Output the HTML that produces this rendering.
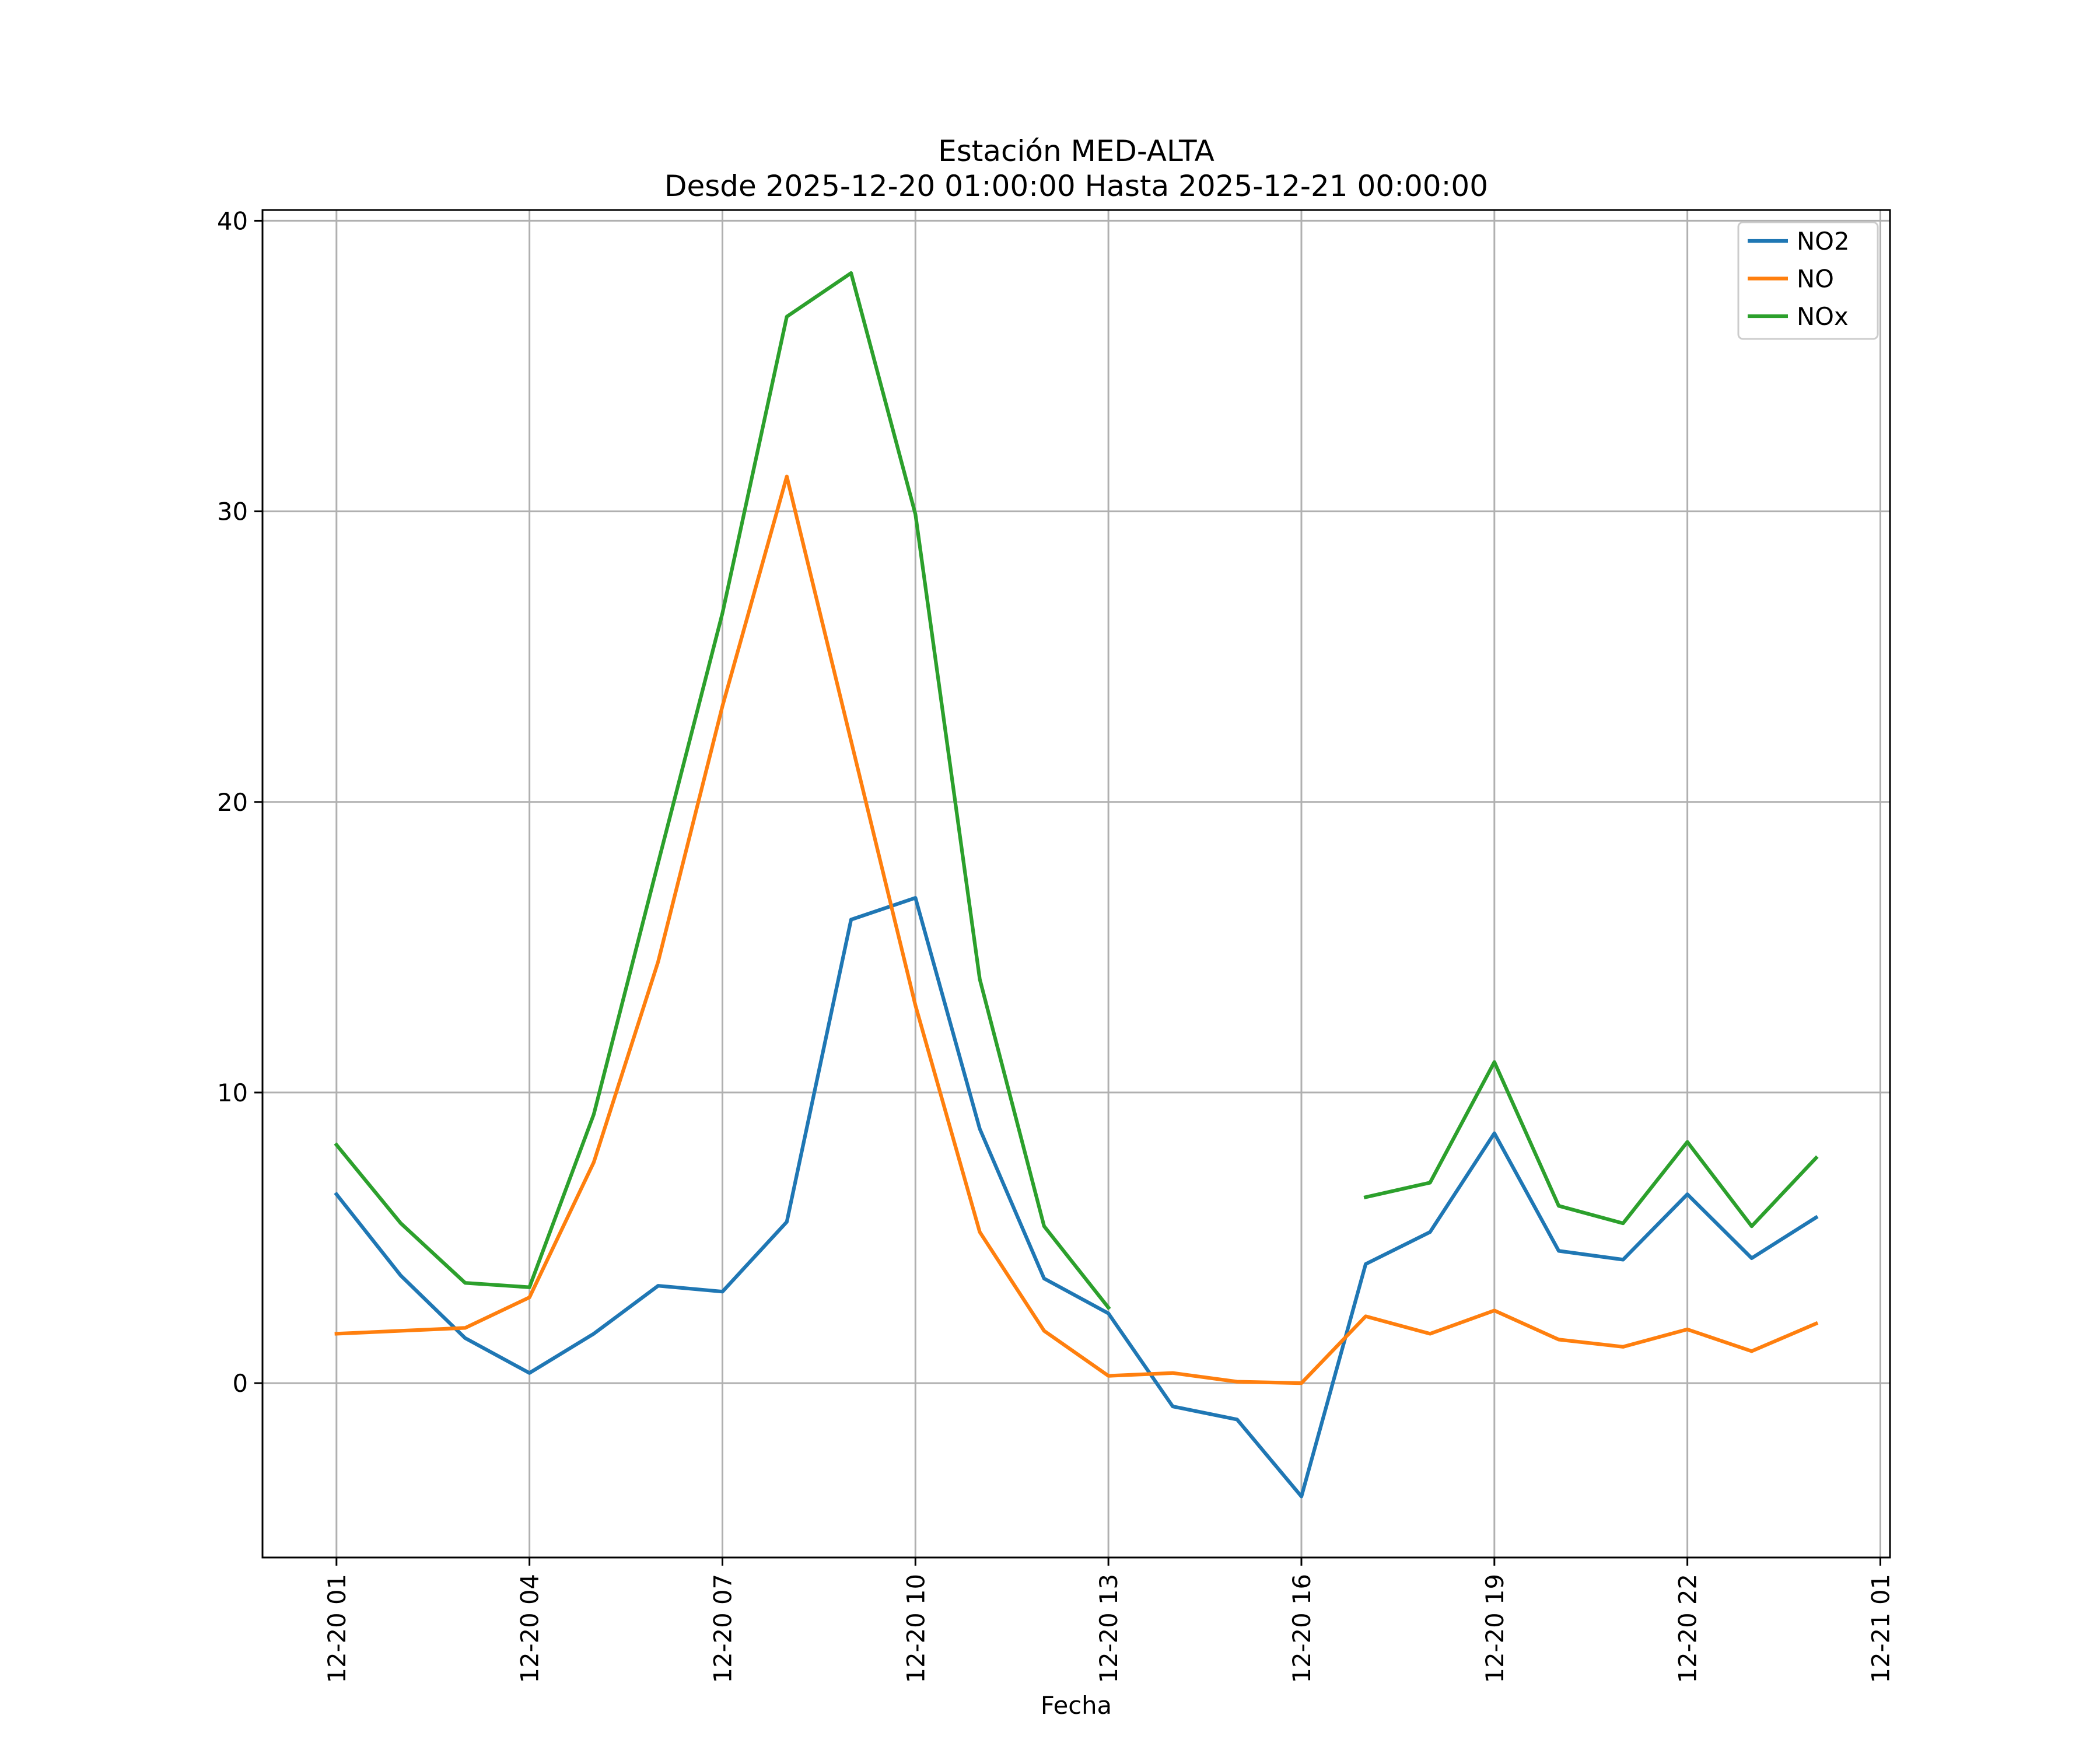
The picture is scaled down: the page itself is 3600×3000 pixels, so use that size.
<!DOCTYPE html>
<html><head><meta charset="utf-8"><style>
body{margin:0;background:#fff}
svg{display:block;font-family:"DejaVu Sans","Liberation Sans",sans-serif}
</style></head><body>
<svg id="chart" width="3600" height="3000" viewBox="0 0 3600 3000" xmlns="http://www.w3.org/2000/svg">
<rect width="3600" height="3000" fill="#fff"/>
<text x="1845" y="276" font-size="50" text-anchor="middle">Estación MED-ALTA</text>
<text x="1845" y="336" font-size="50" text-anchor="middle">Desde 2025-12-20 01:00:00 Hasta 2025-12-21 00:00:00</text>
<g id="grid"></g>
<g id="series"></g>
<rect x="450" y="360" width="2790" height="2310" fill="none" stroke="#000" stroke-width="3"/>
<g id="ticks"></g>
<text x="1845" y="2938" font-size="41.7" text-anchor="middle">Fecha</text>
<g id="legend"></g>
</svg>
<script>
const hours = [0,1,2,3,4,5,6,7,8,9,10,11,12,13,14,15,16,17,18,19,20,21,22,23];
const no2 = [6.5,3.7,1.55,0.35,1.7,3.35,3.15,5.55,15.95,16.7,8.75,3.6,2.4,-0.8,-1.25,-3.9,4.1,5.2,8.6,4.55,4.25,6.5,4.3,5.7];
const no = [1.7,1.8,1.9,2.95,7.6,14.5,23.3,31.2,22.1,13.0,5.2,1.8,0.25,0.35,0.05,0.0,2.3,1.7,2.5,1.5,1.25,1.85,1.1,2.05];
const nox = [8.2,5.5,3.45,3.3,9.25,17.9,26.5,36.7,38.2,29.9,13.9,5.4,2.6,null,null,null,6.4,6.9,11.05,6.1,5.5,8.3,5.4,7.75];
const yTicks = [0,10,20,30,40];
const xTickHours = [0,3,6,9,12,15,18,21,24];
const xTickLabels = ["12-20 01","12-20 04","12-20 07","12-20 10","12-20 13","12-20 16","12-20 19","12-20 22","12-21 01"];

const L=450,R=3240,T=360,B=2670;
const xMin=-1.15,xMax=24.15,yMin=-6.0,yMax=40.37;
const xs=h=>L+(h-xMin)/(xMax-xMin)*(R-L);
const ys=v=>B-(v-yMin)/(yMax-yMin)*(B-T);
const NS="http://www.w3.org/2000/svg";
function mk(tag,attrs,parent){const e=document.createElementNS(NS,tag);for(const k in attrs)e.setAttribute(k,attrs[k]);parent.appendChild(e);return e;}
const grid=document.getElementById('grid'),ticks=document.getElementById('ticks'),series=document.getElementById('series'),legend=document.getElementById('legend');

yTicks.forEach(v=>{
  const y=ys(v);
  const g=mk('line',{x1:L,x2:R,y1:y,y2:y,stroke:'#b0b0b0','stroke-width':3},grid);
  
  
  mk('line',{x1:L-14,x2:L,y1:y,y2:y,stroke:'#000','stroke-width':3},ticks);
  const t=mk('text',{x:L-25,y:y+15,'font-size':41.7,'text-anchor':'end'},ticks);
  t.textContent=v;
  
  
});
xTickHours.forEach((h,i)=>{
  const x=xs(h);
  const g=mk('line',{x1:x,x2:x,y1:T,y2:B,stroke:'#b0b0b0','stroke-width':3},grid);
  
  
  mk('line',{x1:x,x2:x,y1:B,y2:B+14,stroke:'#000','stroke-width':3},ticks);
  const t=mk('text',{x:0,y:0,'font-size':41.7,'text-anchor':'end',transform:`translate(${x+15},${B+28}) rotate(-90)`},ticks);
  t.textContent=xTickLabels[i];
  
  
});

function drawSeries(vals,color,name){
  let d='',pen=false;
  vals.forEach((v,i)=>{
    if(v===null){pen=false;return;}
    d+=(pen?'L':'M')+xs(hours[i]).toFixed(1)+' '+ys(v).toFixed(1)+' ';pen=true;
  });
  const p=mk('path',{d:d,fill:'none',stroke:color,'stroke-width':6.25,'stroke-linejoin':'round','stroke-linecap':'square'},series);
  
  
}
drawSeries(no2,'#1f77b4','no2-line');
drawSeries(no,'#ff7f0e','no-line');
drawSeries(nox,'#2ca02c','nox-line');

const lb=mk('rect',{x:2980,y:381,width:239,height:200,rx:8,fill:'#fff','fill-opacity':0.8,stroke:'#ccc','stroke-width':3},legend);


[['NO2','#1f77b4'],['NO','#ff7f0e'],['NOx','#2ca02c']].forEach((e,i)=>{
  const y=413+i*64.5;
  const ln=mk('line',{x1:2996,x2:3065,y1:y,y2:y,stroke:e[1],'stroke-width':6.25},legend);
  
  
  const t=mk('text',{x:3080,y:y+15,'font-size':41.7},legend);
  t.textContent=e[0];
  
  
});
</script>
</body></html>
